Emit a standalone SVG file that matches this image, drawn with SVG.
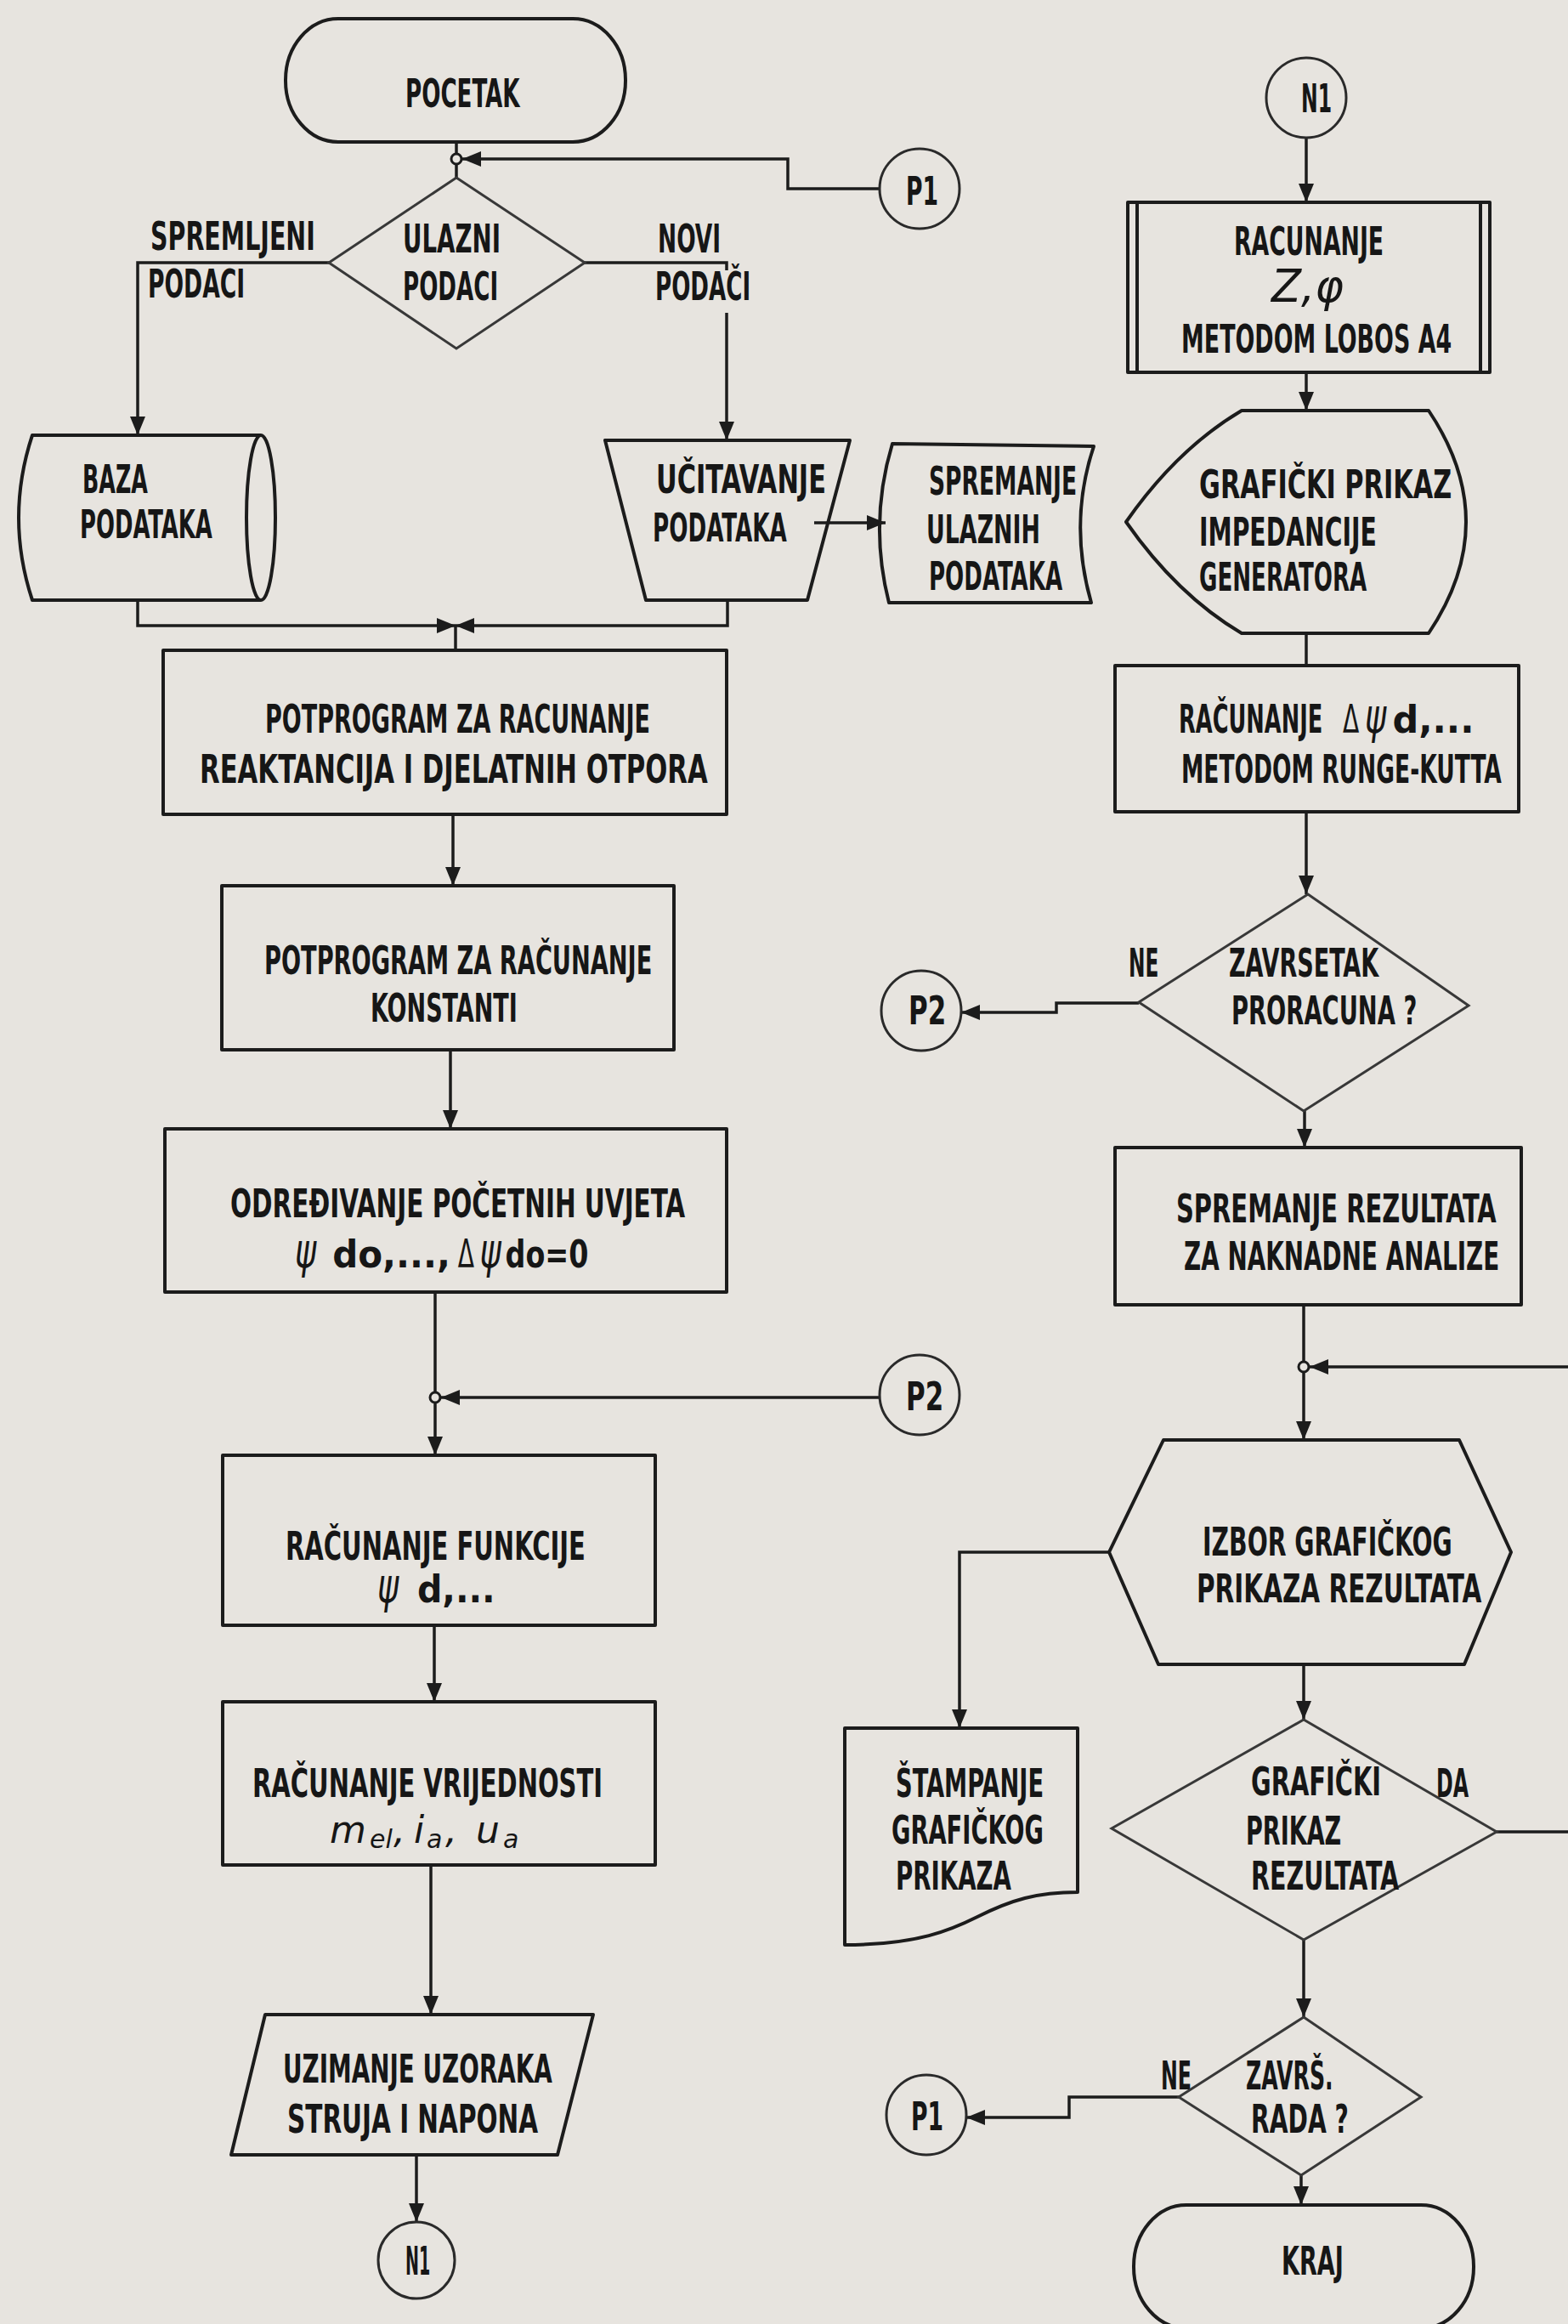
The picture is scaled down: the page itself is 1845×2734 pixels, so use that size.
<svg xmlns="http://www.w3.org/2000/svg" width="1845" height="2734" viewBox="0 0 1845 2734">
  <style>
    .t { font-family: "DejaVu Sans Condensed", "DejaVu Sans", sans-serif; font-weight: bold; font-size: 46px; fill: #161616; }
    .m { font-family: "DejaVu Sans", sans-serif; font-style: italic; font-weight: normal; fill: #161616; }
    .s { fill: none; stroke: #1c1c1c; stroke-width: 4; stroke-linejoin: round; }
    .d { fill: none; stroke: #383838; stroke-width: 3; stroke-linejoin: miter; }
    .c { fill: none; stroke: #2a2a2a; stroke-width: 3; }
    .ln { fill: none; stroke: #1c1c1c; stroke-width: 3.5; }
    .a { marker-end: url(#ah); }
    .jn { fill: #e7e4df; stroke: #1c1c1c; stroke-width: 3; }
  </style>
  <defs>
    <marker id="ah" viewBox="0 0 22 18" refX="22" refY="9" markerWidth="22" markerHeight="18" markerUnits="userSpaceOnUse" orient="auto">
      <path d="M0,0 L22,9 L0,18 z" fill="#1c1c1c"/>
    </marker>
  </defs>

  <rect x="0" y="0" width="1845" height="2734" fill="#e7e4df"/>

  <!-- connectors -->
  <g id="connectors">
    <!-- left column -->
    <path class="ln" d="M537,167 L537,209"/>
    <path class="ln a" d="M1035,222 L927,222 L927,187 L544,187"/>
    <circle class="jn" cx="537" cy="187" r="6"/>
    <path class="ln a" d="M387,309 L162,309 L162,512"/>
    <path class="ln" d="M688,309 L855,309 L855,318"/>
    <path class="ln a" d="M855,368 L855,518"/>
    <path class="ln a" d="M162,706 L162,736 L536,736"/>
    <path class="ln a" d="M856,706 L856,736 L536,736"/>
    <path class="ln" d="M536,736 L536,765"/>
    <path class="ln a" d="M958,615 L1042,615"/>
    <path class="ln a" d="M533,958 L533,1042"/>
    <path class="ln a" d="M530,1235 L530,1328"/>
    <path class="ln a" d="M512,1520 L512,1712"/>
    <path class="ln a" d="M1035,1644 L519,1644"/>
    <circle class="jn" cx="512" cy="1644" r="6"/>
    <path class="ln a" d="M511,1912 L511,2002"/>
    <path class="ln a" d="M507,2194 L507,2370"/>
    <path class="ln a" d="M490,2535 L490,2614"/>
    <!-- right column -->
    <path class="ln a" d="M1537,162 L1537,238"/>
    <path class="ln a" d="M1537,438 L1537,483"/>
    <path class="ln" d="M1537,745 L1537,783"/>
    <path class="ln a" d="M1537,955 L1537,1052"/>
    <path class="ln a" d="M1340,1180 L1243,1180 L1243,1191 L1131,1191"/>
    <path class="ln a" d="M1535,1307 L1535,1350"/>
    <path class="ln a" d="M1534,1535 L1534,1694"/>
    <path class="ln a" d="M1845,1608 L1541,1608"/>
    <circle class="jn" cx="1534" cy="1608" r="6"/>
    <path class="ln a" d="M1305,1826 L1129,1826 L1129,2033"/>
    <path class="ln a" d="M1534,1958 L1534,2023"/>
    <path class="ln" d="M1761,2155 L1845,2155"/>
    <path class="ln a" d="M1534,2282 L1534,2373"/>
    <path class="ln a" d="M1387,2467 L1258,2467 L1258,2491 L1137,2491"/>
    <path class="ln a" d="M1531,2559 L1531,2594"/>
  </g>

  <!-- edge labels (narrow plotter lettering: text squeezed horizontally to 0.68) -->
  <g id="edge-labels">
    <text class="t" transform="matrix(.68 0 0 1 177 0)" y="294" textLength="285" lengthAdjust="spacingAndGlyphs">SPREMLJENI</text>
    <text class="t" transform="matrix(.68 0 0 1 174 0)" y="350" textLength="168" lengthAdjust="spacingAndGlyphs">PODACI</text>
    <text class="t" transform="matrix(.68 0 0 1 774 0)" y="297" textLength="109" lengthAdjust="spacingAndGlyphs">NOVI</text>
    <text class="t" transform="matrix(.68 0 0 1 771 0)" y="353" textLength="165" lengthAdjust="spacingAndGlyphs">PODAČI</text>
    <text class="t" transform="matrix(.68 0 0 1 1328 0)" y="1149" textLength="52" lengthAdjust="spacingAndGlyphs">NE</text>
    <text class="t" transform="matrix(.68 0 0 1 1690 0)" y="2114" textLength="56" lengthAdjust="spacingAndGlyphs">DA</text>
    <text class="t" transform="matrix(.68 0 0 1 1366 0)" y="2458" textLength="53" lengthAdjust="spacingAndGlyphs">NE</text>
  </g>

  <g id="pocetak">
    <rect class="s" x="336" y="22" width="400" height="145" rx="62" ry="72"/>
    <text class="t" transform="matrix(.68 0 0 1 477 0)" y="126" textLength="198" lengthAdjust="spacingAndGlyphs">POCETAK</text>
  </g>

  <g id="ulazni-podaci">
    <polygon class="d" points="537,209 688,309 537,410 387,309"/>
    <text class="t" transform="matrix(.68 0 0 1 474 0)" y="297" textLength="169" lengthAdjust="spacingAndGlyphs">ULAZNI</text>
    <text class="t" transform="matrix(.68 0 0 1 474 0)" y="353" textLength="165" lengthAdjust="spacingAndGlyphs">PODACI</text>
  </g>

  <g id="baza-podataka">
    <path class="s" d="M38,512 L307,512 A17,97 0 0 1 307,706 L38,706 Q6,609 38,512 Z"/>
    <path class="s" d="M307,512 A17,97 0 0 0 307,706"/>
    <text class="t" transform="matrix(.68 0 0 1 97 0)" y="580" textLength="113" lengthAdjust="spacingAndGlyphs">BAZA</text>
    <text class="t" transform="matrix(.68 0 0 1 94 0)" y="633" textLength="229" lengthAdjust="spacingAndGlyphs">PODATAKA</text>
  </g>

  <g id="ucitavanje">
    <polygon class="s" points="712,518 1000,518 950,706 760,706"/>
    <text class="t" transform="matrix(.68 0 0 1 772 0)" y="580" textLength="294" lengthAdjust="spacingAndGlyphs">UČITAVANJE</text>
    <text class="t" transform="matrix(.68 0 0 1 768 0)" y="637" textLength="232" lengthAdjust="spacingAndGlyphs">PODATAKA</text>
  </g>

  <g id="spremanje-ulaznih">
    <path class="s" d="M1050,522 L1287,525 Q1257,615 1284,709 L1046,709 Q1022,615 1050,522 Z"/>
    <text class="t" transform="matrix(.68 0 0 1 1093 0)" y="582" textLength="256" lengthAdjust="spacingAndGlyphs">SPREMANJE</text>
    <text class="t" transform="matrix(.68 0 0 1 1090 0)" y="639" textLength="197" lengthAdjust="spacingAndGlyphs">ULAZNIH</text>
    <text class="t" transform="matrix(.68 0 0 1 1093 0)" y="694" textLength="231" lengthAdjust="spacingAndGlyphs">PODATAKA</text>
  </g>

  <g id="p1-top">
    <circle class="c" cx="1082" cy="222" r="47"/>
    <text class="t" transform="matrix(.68 0 0 1 1066 0)" y="241" textLength="56" lengthAdjust="spacingAndGlyphs">P1</text>
  </g>

  <g id="potprogram-reaktancija">
    <rect class="s" x="192" y="765" width="663" height="193"/>
    <text class="t" transform="matrix(.68 0 0 1 312 0)" y="862" textLength="666" lengthAdjust="spacingAndGlyphs">POTPROGRAM ZA RACUNANJE</text>
    <text class="t" transform="matrix(.68 0 0 1 235 0)" y="921" textLength="879" lengthAdjust="spacingAndGlyphs">REAKTANCIJA I DJELATNIH OTPORA</text>
  </g>

  <g id="potprogram-konstanti">
    <rect class="s" x="261" y="1042" width="532" height="193"/>
    <text class="t" transform="matrix(.68 0 0 1 311 0)" y="1146" textLength="671" lengthAdjust="spacingAndGlyphs">POTPROGRAM ZA RAČUNANJE</text>
    <text class="t" transform="matrix(.68 0 0 1 436 0)" y="1202" textLength="254" lengthAdjust="spacingAndGlyphs">KONSTANTI</text>
  </g>

  <g id="pocetni-uvjeti">
    <rect class="s" x="194" y="1328" width="661" height="192"/>
    <text class="t" transform="matrix(.68 0 0 1 271 0)" y="1432" textLength="787" lengthAdjust="spacingAndGlyphs">ODREĐIVANJE POČETNIH UVJETA</text>
    <text class="t" transform="matrix(.68 0 0 1 347 0)" y="1491"><tspan class="m" x="0" font-size="56">ψ</tspan><tspan x="65" font-size="44" textLength="204" lengthAdjust="spacingAndGlyphs">do,...,</tspan><tspan x="282" font-weight="normal" font-size="46">Δ</tspan><tspan class="m" x="320" font-size="56">ψ</tspan><tspan x="364" font-size="44" textLength="144" lengthAdjust="spacingAndGlyphs">do=0</tspan></text>
  </g>

  <g id="funkcije">
    <rect class="s" x="262" y="1712" width="509" height="200"/>
    <text class="t" transform="matrix(.68 0 0 1 336 0)" y="1835" textLength="519" lengthAdjust="spacingAndGlyphs">RAČUNANJE FUNKCIJE</text>
    <text class="t" transform="matrix(.68 0 0 1 444 0)" y="1885"><tspan class="m" x="0" font-size="56">ψ</tspan><tspan x="69" font-size="44" textLength="135" lengthAdjust="spacingAndGlyphs">d,...</tspan></text>
  </g>

  <g id="vrijednosti">
    <rect class="s" x="262" y="2002" width="509" height="192"/>
    <text class="t" transform="matrix(.68 0 0 1 297 0)" y="2114" textLength="606" lengthAdjust="spacingAndGlyphs">RAČUNANJE VRIJEDNOSTI</text>
    <text class="m" y="2168" font-size="44"><tspan x="388">m</tspan><tspan x="435" y="2174" font-size="30">el</tspan><tspan x="463" y="2168">,</tspan><tspan x="487">i</tspan><tspan x="502" y="2174" font-size="30">a</tspan><tspan x="524" y="2168">,</tspan><tspan x="560">u</tspan><tspan x="592" y="2174" font-size="30">a</tspan></text>
  </g>

  <g id="uzimanje-uzoraka">
    <polygon class="s" points="312,2370 698,2370 656,2535 272,2535"/>
    <text class="t" transform="matrix(.68 0 0 1 333 0)" y="2450" textLength="466" lengthAdjust="spacingAndGlyphs">UZIMANJE UZORAKA</text>
    <text class="t" transform="matrix(.68 0 0 1 338 0)" y="2509" textLength="434" lengthAdjust="spacingAndGlyphs">STRUJA I NAPONA</text>
  </g>

  <g id="n1-bottom">
    <circle class="c" cx="490" cy="2659" r="45"/>
    <text class="t" transform="matrix(.68 0 0 1 477 0)" y="2676" textLength="43" lengthAdjust="spacingAndGlyphs">N1</text>
  </g>

  <g id="n1-top">
    <circle class="c" cx="1537" cy="115" r="47"/>
    <text class="t" transform="matrix(.68 0 0 1 1531 0)" y="132" textLength="53" lengthAdjust="spacingAndGlyphs">N1</text>
  </g>

  <g id="racunanje-z-phi">
    <rect class="s" x="1327" y="238" width="426" height="200"/>
    <path class="s" d="M1338,238 L1338,438 M1742,238 L1742,438"/>
    <text class="t" transform="matrix(.68 0 0 1 1452 0)" y="300" textLength="259" lengthAdjust="spacingAndGlyphs">RACUNANJE</text>
    <text class="m" x="1496" y="355" font-size="54" textLength="85" lengthAdjust="spacingAndGlyphs">Z,φ</text>
    <text class="t" transform="matrix(.68 0 0 1 1390 0)" y="415" textLength="468" lengthAdjust="spacingAndGlyphs">METODOM LOBOS A4</text>
  </g>

  <g id="graficki-prikaz-impedancije">
    <path class="s" d="M1461,483 L1681,483 Q1769,614 1681,745 L1461,745 Q1385,700 1325,614 Q1385,528 1461,483 Z"/>
    <text class="t" transform="matrix(.68 0 0 1 1411 0)" y="586" textLength="437" lengthAdjust="spacingAndGlyphs">GRAFIČKI PRIKAZ</text>
    <text class="t" transform="matrix(.68 0 0 1 1411 0)" y="642" textLength="307" lengthAdjust="spacingAndGlyphs">IMPEDANCIJE</text>
    <text class="t" transform="matrix(.68 0 0 1 1411 0)" y="695" textLength="290" lengthAdjust="spacingAndGlyphs">GENERATORA</text>
  </g>

  <g id="runge-kutta">
    <rect class="s" x="1312" y="783" width="475" height="172"/>
    <text class="t" transform="matrix(.68 0 0 1 1387 0)" y="862"><tspan x="0" textLength="262" lengthAdjust="spacingAndGlyphs">RAČUNANJE </tspan><tspan x="284" font-weight="normal" font-size="46">Δ</tspan><tspan class="m" x="322" font-size="56">ψ</tspan><tspan x="370" font-size="44" textLength="141" lengthAdjust="spacingAndGlyphs">d,...</tspan></text>
    <text class="t" transform="matrix(.68 0 0 1 1390 0)" y="921" textLength="554" lengthAdjust="spacingAndGlyphs">METODOM RUNGE-KUTTA</text>
  </g>

  <g id="zavrsetak-proracuna">
    <polygon class="d" points="1539,1052 1728,1183 1534,1307 1340,1179"/>
    <text class="t" transform="matrix(.68 0 0 1 1446 0)" y="1149" textLength="259" lengthAdjust="spacingAndGlyphs">ZAVRSETAK</text>
    <text class="t" transform="matrix(.68 0 0 1 1449 0)" y="1205" textLength="321" lengthAdjust="spacingAndGlyphs">PRORACUNA ?</text>
  </g>

  <g id="p2-right">
    <circle class="c" cx="1084" cy="1189" r="47"/>
    <text class="t" transform="matrix(.68 0 0 1 1069 0)" y="1205" textLength="65" lengthAdjust="spacingAndGlyphs">P2</text>
  </g>

  <g id="p2-left">
    <circle class="c" cx="1082" cy="1641" r="47"/>
    <text class="t" transform="matrix(.68 0 0 1 1066 0)" y="1659" textLength="65" lengthAdjust="spacingAndGlyphs">P2</text>
  </g>

  <g id="spremanje-rezultata">
    <rect class="s" x="1312" y="1350" width="478" height="185"/>
    <text class="t" transform="matrix(.68 0 0 1 1384 0)" y="1438" textLength="554" lengthAdjust="spacingAndGlyphs">SPREMANJE REZULTATA</text>
    <text class="t" transform="matrix(.68 0 0 1 1393 0)" y="1494" textLength="546" lengthAdjust="spacingAndGlyphs">ZA NAKNADNE ANALIZE</text>
  </g>

  <g id="izbor-prikaza">
    <polygon class="s" points="1369,1694 1717,1694 1778,1826 1723,1958 1363,1958 1305,1826"/>
    <text class="t" transform="matrix(.68 0 0 1 1415 0)" y="1830" textLength="432" lengthAdjust="spacingAndGlyphs">IZBOR GRAFIČKOG</text>
    <text class="t" transform="matrix(.68 0 0 1 1408 0)" y="1885" textLength="493" lengthAdjust="spacingAndGlyphs">PRIKAZA REZULTATA</text>
  </g>

  <g id="stampanje">
    <path class="s" d="M994,2033 L1268,2033 L1268,2226 C1220,2226 1190,2235 1150,2255 C1120,2270 1080,2288 994,2288 Z"/>
    <text class="t" transform="matrix(.68 0 0 1 1054 0)" y="2114" textLength="256" lengthAdjust="spacingAndGlyphs">ŠTAMPANJE</text>
    <text class="t" transform="matrix(.68 0 0 1 1049 0)" y="2169" textLength="263" lengthAdjust="spacingAndGlyphs">GRAFIČKOG</text>
    <text class="t" transform="matrix(.68 0 0 1 1054 0)" y="2223" textLength="200" lengthAdjust="spacingAndGlyphs">PRIKAZA</text>
  </g>

  <g id="graficki-prikaz-rezultata">
    <polygon class="d" points="1534,2023 1761,2155 1534,2282 1308,2151"/>
    <text class="t" transform="matrix(.68 0 0 1 1472 0)" y="2112" textLength="225" lengthAdjust="spacingAndGlyphs">GRAFIČKI</text>
    <text class="t" transform="matrix(.68 0 0 1 1466 0)" y="2170" textLength="165" lengthAdjust="spacingAndGlyphs">PRIKAZ</text>
    <text class="t" transform="matrix(.68 0 0 1 1472 0)" y="2223" textLength="256" lengthAdjust="spacingAndGlyphs">REZULTATA</text>
  </g>

  <g id="zavrs-rada">
    <polygon class="d" points="1534,2373 1672,2467 1531,2559 1387,2467"/>
    <text class="t" transform="matrix(.68 0 0 1 1466 0)" y="2458" textLength="151" lengthAdjust="spacingAndGlyphs">ZAVRŠ.</text>
    <text class="t" transform="matrix(.68 0 0 1 1472 0)" y="2509" textLength="169" lengthAdjust="spacingAndGlyphs">RADA ?</text>
  </g>

  <g id="p1-bottom">
    <circle class="c" cx="1090" cy="2488" r="47"/>
    <text class="t" transform="matrix(.68 0 0 1 1072 0)" y="2506" textLength="56" lengthAdjust="spacingAndGlyphs">P1</text>
  </g>

  <g id="kraj">
    <rect class="s" x="1334" y="2594" width="400" height="145" rx="62" ry="72"/>
    <text class="t" transform="matrix(.68 0 0 1 1508 0)" y="2676" textLength="107" lengthAdjust="spacingAndGlyphs">KRAJ</text>
  </g>
</svg>
